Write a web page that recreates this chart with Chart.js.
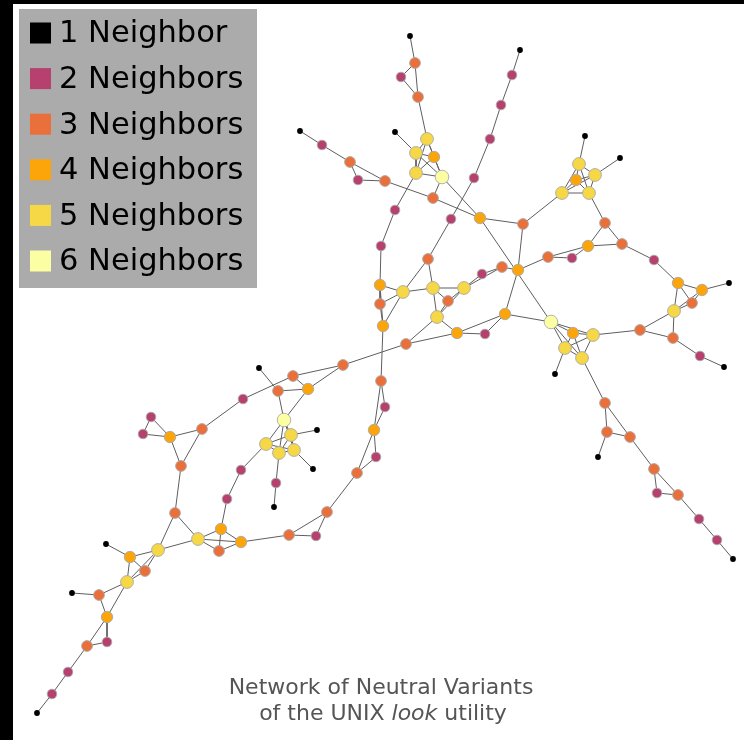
<!DOCTYPE html>
<html>
<head>
<meta charset="utf-8">
<script src="https://cdn.jsdelivr.net/npm/chart.js@4.4.1/dist/chart.umd.min.js"></script>
<style>
  html, body { margin: 0; padding: 0; background: #000; width: 744px; height: 740px; overflow: hidden; }
  #wrap { position: absolute; left: 13px; top: 4px; width: 731px; height: 736px; background: #fff; }
  canvas { display: block; }
</style>
</head>
<body>
<div id="wrap"><canvas id="net" width="731" height="736"></canvas></div>
<script>
// Variants (nodes) of the network with their layout positions
const nodeNames = [
  'A1','A2','A3','A4','A5','A6','A7','A8','A9','A10','A11',
  'B1','B2','B3','B4','B5','C1','C2',
  'D1','D2','D3','D4','D5','D6','D7','D8','D9','D10','D11','D12','D13','D14','D15','D16','D17','D18','D19',
  'E0','E1','E2','E3','E4','E5',
  'F1','F2','F3','F4','F5','F6',
  'G0','G1','G2','G3','G4','G5','G6',
  'H1','H2','H3','H4','H5','H6','H7','H8','H9','H10','H11','H12','H13','H14',
  'I1','I2','I3','I4','I5','I6','I7','I8','I9','I10','I11','I12','I13','I14',
  'J1','J2','J3','J4','J5','J6',
  'K2','K3','K4','K5','K6','K7','K8',
  'L1','L2','L3','L4','L5','L6','L7','L8',
  'M1','M2','M3','M4','M5','M6','M7','M8','M9','M10','M11','M12','M13',
  'N1','N2','N3','N4','N5','N6','N7','N8','N9','N10'
];
const nodeX = [
  410,415,401,418,427,395,416,434,416,442,433,
  300,322,350,358,385,480,523,
  395,381,380,380,383,403,428,433,464,448,437,457,485,505,406,482,502,518,548,
  520,512,501,490,474,451,
  551,573,593,565,582,555,
  585,579,595,576,562,589,620,
  605,588,622,572,654,678,702,729,692,674,640,673,700,724,
  343,293,278,308,259,284,291,266,279,294,317,313,276,274,
  381,385,374,376,357,327,
  243,202,170,151,143,181,175,
  241,227,221,198,219,241,289,316,
  158,130,106,145,127,72,99,107,107,87,68,52,37,
  605,607,630,598,654,657,678,699,717,733
];
const nodeY = [
  36,63,77,97,139,132,153,157,173,177,198,
  131,145,162,180,181,218,224,
  210,246,285,304,326,292,259,288,288,301,317,333,334,314,344,274,267,270,257,
  50,75,105,139,178,219,
  322,333,335,348,358,374,
  136,164,175,180,193,193,158,
  223,246,244,258,260,283,290,283,303,311,330,338,356,367,
  365,376,391,389,368,420,435,444,453,450,430,469,483,507,
  381,407,430,457,473,512,
  399,429,437,417,434,466,513,
  470,499,529,539,551,542,535,536,
  550,557,544,571,582,593,595,617,642,646,672,694,713,
  403,432,437,457,469,493,495,519,540,559
];

// Single mutations linking two variants
const links = [
  ['A1','A2'],['A2','A3'],['A2','A4'],['A3','A4'],['A4','A5'],
  ['A6','A7'],['A9','D1'],['A10','A11'],['A10','C1'],['A11','B5'],['A11','C1'],
  ['B1','B2'],['B2','B3'],['B3','B4'],['B3','B5'],['B4','B5'],
  ['C1','C2'],['C1','F1'],['C2','G4'],['C2','D18'],
  ['D1','D2'],['D2','D3'],['D3','D6'],['D3','D4'],['D3','D5'],['D4','D6'],['D4','D5'],['D5','D6'],['D5','J1'],
  ['D6','D7'],['D6','D8'],['D7','D8'],['D7','E5'],
  ['D9','D16'],['D9','D17'],['D16','D17'],['D17','D18'],['D18','D19'],['D18','D14'],
  ['D11','D12'],['D11','D15'],['D12','D13'],['D12','D14'],['D12','D15'],['D13','D14'],['D14','F1'],['D15','I1'],
  ['D19','H2'],['D19','H4'],['H4','H2'],
  ['E0','E1'],['E1','E2'],['E2','E3'],['E3','E4'],['E4','E5'],
  ['F3','H11'],['F4','F6'],['F5','N1'],
  ['G0','G1'],['G6','G2'],['G5','H1'],
  ['H1','H2'],['H1','H3'],['H2','H3'],['H3','H5'],['H5','H6'],['H6','H7'],['H6','H9'],['H6','H10'],
  ['H7','H8'],['H7','H9'],['H7','H10'],['H9','H10'],['H10','H11'],['H10','H12'],['H11','H12'],['H12','H13'],['H13','H14'],
  ['I1','I2'],['I1','I4'],['I2','I4'],['I2','K2'],['I3','I4'],['I3','I5'],['I3','I6'],['I4','I6'],
  ['I7','I11'],['I8','L1'],['I9','I13'],['I10','I12'],['I13','I14'],
  ['J1','J2'],['J1','J3'],['J2','J3'],['J3','J4'],['J3','J5'],['J4','J5'],['J5','J6'],['J6','L7'],['J6','L8'],['L7','L8'],['L6','L7'],
  ['K2','K3'],['K3','K4'],['K3','K7'],['K4','K5'],['K4','K6'],['K5','K6'],['K4','K7'],['K7','K8'],['K8','L4'],['K8','M1'],
  ['L1','L2'],['L2','L3'],['L3','L4'],['L3','L5'],['L3','L6'],['L4','L5'],['L4','L6'],['L5','L6'],['L4','M1'],
  ['M1','M2'],['M1','M4'],['M1','M5'],['M2','M3'],['M2','M4'],['M2','M5'],['M4','M5'],['M5','M7'],['M5','M8'],
  ['M6','M7'],['M7','M8'],['M8','M9'],['M8','M10'],['M9','M10'],['M10','M11'],['M11','M12'],['M12','M13'],
  ['N1','N2'],['N1','N3'],['N2','N3'],['N2','N4'],['N3','N5'],['N5','N6'],['N5','N7'],['N6','N7'],['N7','N8'],['N8','N9'],['N9','N10']
];
// Fully connected groups of variants
const cliques = [
  ['A5','A7','A8','A9','A10'],
  ['F1','F2','F3','F4','F5'],
  ['G1','G2','G3','G4','G5'],
  ['I6','I7','I8','I9','I10'],
  ['D8','D9','D10','D11']
];

const degreeLabels = ['1 Neighbor','2 Neighbors','3 Neighbors','4 Neighbors','5 Neighbors','6 Neighbors'];
const degreeColors = ['#000000','#b6416f','#e9703b','#fca50a','#f6d746','#fcfea4'];
const degreeRadius = [2.9, 4.8, 5.4, 5.7, 6.4, 6.8];

// ---- build edges and node classes ----
const idx = {};
nodeNames.forEach((n, i) => { idx[n] = i; });
const allLinks = links.slice();
cliques.forEach(g => {
  for (let i = 0; i < g.length; i++)
    for (let j = i + 1; j < g.length; j++) allLinks.push([g[i], g[j]]);
});
const degree = nodeNames.map(() => 0);
allLinks.forEach(([a, b]) => { degree[idx[a]]++; degree[idx[b]]++; });

const edgePoints = [];
allLinks.forEach(([a, b]) => {
  edgePoints.push({ x: nodeX[idx[a]], y: nodeY[idx[a]] });
  edgePoints.push({ x: nodeX[idx[b]], y: nodeY[idx[b]] });
  edgePoints.push({ x: null, y: null });
});

const nodeSets = degreeLabels.map((label, k) => ({
  label,
  data: nodeNames.map((n, i) => ({ x: nodeX[i], y: nodeY[i], d: degree[i] }))
                 .filter(p => p.d === k + 1),
  backgroundColor: degreeColors[k],
  borderColor: k === 0 ? degreeColors[0] : 'rgba(170,170,170,0.9)',
  borderWidth: k === 0 ? 0 : 1,
  pointRadius: degreeRadius[k],
  pointHoverRadius: degreeRadius[k],
  order: 6 - k,
  clip: false
}));

// ---- legend box and caption drawn on the canvas ----
const overlay = {
  id: 'overlay',
  afterDraw(chart) {
    const ctx = chart.ctx;
    const xs = chart.scales.x, ys = chart.scales.y;
    const px = v => xs.getPixelForValue(v), py = v => ys.getPixelForValue(v);
    ctx.save();
    // legend
    ctx.fillStyle = '#ababab';
    ctx.fillRect(px(19), py(9), px(257) - px(19), py(288) - py(9));
    ctx.font = '30.5px "DejaVu Sans"';
    ctx.textBaseline = 'middle';
    ctx.textAlign = 'left';
    degreeLabels.forEach((lab, k) => {
      const cy = py(33 + k * 45.6);
      ctx.fillStyle = degreeColors[k];
      ctx.fillRect(px(30), cy - 10.5, 21, 21);
      ctx.fillStyle = '#000';
      ctx.fillText(lab, px(59), cy + 1.5);
    });
    // caption
    ctx.fillStyle = '#555555';
    ctx.textBaseline = 'alphabetic';
    const cx = px(381);
    const normal = '22px "DejaVu Sans"', italic = 'italic 22px "DejaVu Sans"';
    ctx.font = normal;
    ctx.textAlign = 'center';
    ctx.fillText('Network of Neutral Variants', cx, py(694));
    const parts = [['of the UNIX ', normal], ['look', italic], [' utility', normal]];
    let total = 0;
    parts.forEach(p => { ctx.font = p[1]; total += ctx.measureText(p[0]).width; });
    let x = cx - total / 2 + 2;
    ctx.textAlign = 'left';
    parts.forEach(p => { ctx.font = p[1]; ctx.fillText(p[0], x, py(720)); x += ctx.measureText(p[0]).width; });
    ctx.restore();
  }
};

new Chart(document.getElementById('net'), {
  type: 'scatter',
  data: {
    datasets: [{
      type: 'line',
      label: 'links',
      data: edgePoints,
      borderColor: '#5e5e5e',
      borderWidth: 1,
      pointRadius: 0,
      showLine: true,
      spanGaps: false,
      fill: false,
      tension: 0,
      order: 20,
      clip: false
    }].concat(nodeSets)
  },
  options: {
    responsive: false,
    animation: false,
    events: [],
    layout: { padding: 0, autoPadding: false },
    plugins: { legend: { display: false }, tooltip: { enabled: false }, title: { display: false } },
    scales: {
      x: { type: 'linear', min: 13, max: 744, display: false },
      y: { type: 'linear', min: 4, max: 740, reverse: true, display: false }
    }
  },
  plugins: [overlay]
});
</script>
</body>
</html>
